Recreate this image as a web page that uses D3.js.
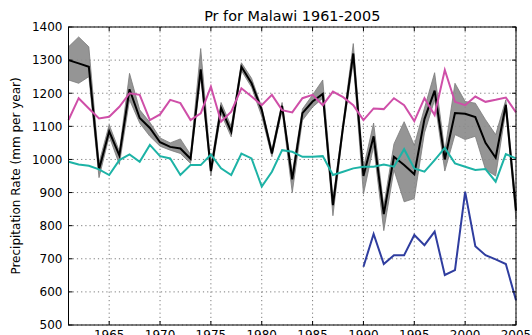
<!DOCTYPE html>
<html><head><meta charset="utf-8">
<script src="https://cdn.jsdelivr.net/npm/d3@7"></script>
<style>
body{margin:0;background:#fff}
text{font-family:"DejaVu Sans",sans-serif;fill:#000}
</style>
</head><body>
<svg id="chart" width="532" height="335"></svg>
<script>
// Annual precipitation, Malawi 1961-2005 (mm per year)
const years = d3.range(1961, 2006);
const ensMean = [1300,1290,1280,970,1085,1012,1212,1125,1095,1052,
                 1038,1033,1002,1272,965,1155,1084,1280,1230,1150,
                 1018,1162,940,1140,1175,1198,862,1100,1320,950,
                 1070,835,1008,983,955,1122,1208,1000,1140,1138,
                 1128,1050,1005,1165,845];
const ensLow  = [1240,1230,1250,945,1070,985,1180,1110,1070,1040,
                 1028,1018,988,1250,950,1138,1068,1268,1218,1130,
                 1008,1148,900,1118,1158,1185,830,1088,1295,895,
                 1040,785,968,872,882,1080,1180,965,1075,1060,
                 1070,970,950,1148,820];
const ensHigh = [1340,1370,1340,990,1105,1025,1260,1150,1112,1065,
                 1050,1062,1015,1335,980,1172,1100,1292,1245,1158,
                 1030,1172,960,1152,1195,1240,880,1112,1350,975,
                 1110,860,1047,1114,1043,1155,1262,1025,1230,1175,
                 1170,1120,1075,1180,870];
const seriesMagenta = [1119,1185,1154,1124,1129,1159,1200,1195,1119,1136,
                       1180,1170,1119,1139,1220,1114,1144,1215,1190,1164,
                       1195,1149,1142,1185,1195,1164,1205,1188,1164,1119,
                       1154,1152,1185,1164,1116,1185,1134,1270,1174,1164,
                       1190,1174,1180,1187,1142];
const seriesCyan = [993,985,981,970,953,998,1015,993,1044,1010,
                    1003,953,983,983,1015,973,953,1018,1003,918,
                    963,1028,1023,1008,1008,1010,953,963,973,978,
                    978,985,978,1031,973,963,998,1035,988,978,
                    968,971,933,1016,1003];
const blueYears = d3.range(1990, 2006);
const seriesBlue = [676,775,684,711,711,772,741,782,651,666,902,738,711,698,684,575];
const yTicks = [500,600,700,800,900,1000,1100,1200,1300,1400];
const xTicks = [1965,1970,1975,1980,1985,1990,1995,2000,2005];

const svg = d3.select("#chart");
const L = 68.5, R = 516, T = 27, B = 325;
const x = d3.scaleLinear().domain([1961, 2005]).range([L, R]);
const y = d3.scaleLinear().domain([500, 1400]).range([B, T]);

// grid
const grid = svg.append("g");
grid.selectAll(".gx").data(xTicks).join("line")
  .attr("x1", d => x(d)).attr("x2", d => x(d)).attr("y1", T).attr("y2", B)
  .attr("stroke", "#444").attr("stroke-width", 0.7).attr("stroke-dasharray", "1.2,3");
grid.selectAll(".gy").data(yTicks).join("line")
  .attr("x1", L).attr("x2", R).attr("y1", d => y(d)).attr("y2", d => y(d))
  .attr("stroke", "#444").attr("stroke-width", 0.7).attr("stroke-dasharray", "1.2,3");

// ensemble spread and mean
const band = d3.area().x((d, i) => x(years[i])).y0((d, i) => y(ensLow[i])).y1((d, i) => y(ensHigh[i]));
svg.append("path").datum(ensLow).attr("d", band)
  .attr("fill", "#8a8a8a").attr("fill-opacity", 0.9)
  .attr("stroke", "#7a7a7a").attr("stroke-width", 0.8);

const line = (vals, yrs) => d3.line().x((d, i) => x(yrs[i])).y(d => y(d))(vals);
svg.append("path").attr("d", line(ensMean, years))
  .attr("fill", "none").attr("stroke", "#000").attr("stroke-width", 2).attr("stroke-linejoin", "miter");
svg.append("path").attr("d", line(seriesMagenta, years))
  .attr("fill", "none").attr("stroke", "#cf4fa8").attr("stroke-width", 2);
svg.append("path").attr("d", line(seriesCyan, years))
  .attr("fill", "none").attr("stroke", "#1db3a6").attr("stroke-width", 2);
svg.append("path").attr("d", line(seriesBlue, blueYears))
  .attr("fill", "none").attr("stroke", "#2f3d9f").attr("stroke-width", 2);

// axes frame and inward ticks
svg.append("rect").attr("x", L).attr("y", T).attr("width", R - L).attr("height", B - T)
  .attr("fill", "none").attr("stroke", "#000").attr("stroke-width", 1);
const ticks = svg.append("g").attr("stroke", "#000").attr("stroke-width", 1);
xTicks.forEach(d => {
  ticks.append("line").attr("x1", x(d)).attr("x2", x(d)).attr("y1", B).attr("y2", B - 4);
  ticks.append("line").attr("x1", x(d)).attr("x2", x(d)).attr("y1", T).attr("y2", T + 4);
});
yTicks.forEach(d => {
  ticks.append("line").attr("x1", L).attr("x2", L + 4).attr("y1", y(d)).attr("y2", y(d));
  ticks.append("line").attr("x1", R).attr("x2", R - 4).attr("y1", y(d)).attr("y2", y(d));
});

// tick labels
svg.selectAll(".yl").data(yTicks).join("text")
  .attr("x", L - 6).attr("y", d => y(d) + 4.3).attr("text-anchor", "end")
  .attr("font-size", 12).text(d => d);
svg.selectAll(".xl").data(xTicks).join("text")
  .attr("x", d => x(d)).attr("y", B + 14).attr("text-anchor", "middle")
  .attr("font-size", 12).text(d => d);

// titles
svg.append("text").attr("x", (L + R) / 2).attr("y", 21).attr("text-anchor", "middle")
  .attr("font-size", 14.4).text("Pr for Malawi 1961-2005");
svg.append("text").attr("transform", `translate(20,${(T + B) / 2}) rotate(-90)`)
  .attr("text-anchor", "middle").attr("font-size", 12)
  .text("Precipitation Rate (mm per year)");
</script>
</body></html>
